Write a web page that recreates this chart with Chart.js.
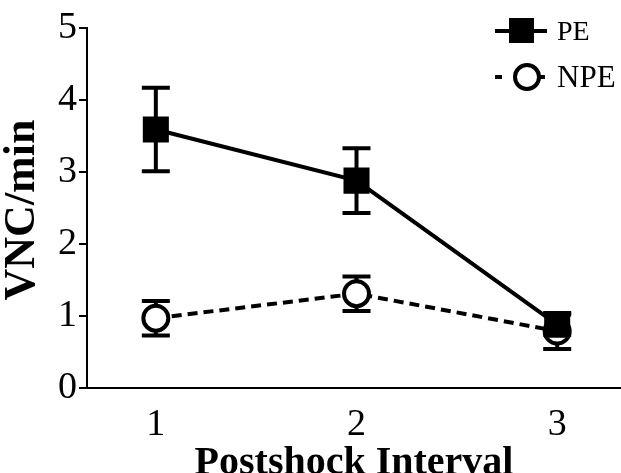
<!DOCTYPE html>
<html>
<head>
<meta charset="utf-8">
<script src="https://cdn.jsdelivr.net/npm/chart.js@4/dist/chart.umd.min.js"></script>
<style>
  html, body { margin: 0; padding: 0; background: #fff; }
  #chart { display: block; }
</style>
</head>
<body>
<canvas id="chart" width="621" height="473"></canvas>
<script>
// values
const intervals = [1, 2, 3];
const peMeans = [3.59, 2.88, 0.88];
const peErrors = [0.58, 0.45, 0.14];
const npeMeans = [0.97, 1.31, 0.79];
const npeErrors = [0.24, 0.24, 0.25];
const yTicks = [0, 1, 2, 3, 4, 5];

const SERIF = '"Liberation Serif", "DejaVu Serif", serif';

const seriesList = [
  { label: 'PE', means: peMeans, errors: peErrors },
  { label: 'NPE', means: npeMeans, errors: npeErrors }
];

const errorBars = {
  id: 'errorBars',
  beforeDatasetsDraw(chart) {
    const { ctx, scales } = chart;
    ctx.save();
    ctx.strokeStyle = '#000';
    ctx.lineWidth = 4;
    seriesList.forEach((series) => {
      series.means.forEach((mean, i) => {
        const x = scales.x.getPixelForValue(intervals[i]);
        const top = scales.y.getPixelForValue(mean + series.errors[i]);
        const bottom = scales.y.getPixelForValue(mean - series.errors[i]);
        ctx.beginPath();
        ctx.moveTo(x, top);
        ctx.lineTo(x, bottom);
        ctx.moveTo(x - 14, top);
        ctx.lineTo(x + 14, top);
        ctx.moveTo(x - 14, bottom);
        ctx.lineTo(x + 14, bottom);
        ctx.stroke();
      });
    });
    ctx.restore();
  }
};

// y title, drawn by hand so it can sit just below the axis middle
const yTitle = {
  id: 'yTitle',
  afterDraw(chart) {
    const { ctx, chartArea } = chart;
    ctx.save();
    ctx.translate(23, (chartArea.top + chartArea.bottom) / 2 + 2);
    ctx.rotate(-Math.PI / 2);
    ctx.fillStyle = '#000';
    ctx.font = 'bold 44px ' + SERIF;
    ctx.textAlign = 'center';
    ctx.textBaseline = 'middle';
    ctx.fillText('VNC/min', 0, 0);
    ctx.restore();
  }
};

const cornerLegend = {
  id: 'cornerLegend',
  afterDraw(chart) {
    const { ctx } = chart;
    ctx.save();
    ctx.strokeStyle = '#000';
    ctx.fillStyle = '#000';
    ctx.lineWidth = 4;

    // PE: solid line through a filled square
    ctx.beginPath();
    ctx.moveTo(495, 31);
    ctx.lineTo(547, 31);
    ctx.stroke();
    ctx.fillRect(509, 18, 25, 25);

    // NPE: short dashes either side of an open circle
    ctx.beginPath();
    ctx.moveTo(495, 77);
    ctx.lineTo(502, 77);
    ctx.moveTo(540, 77);
    ctx.lineTo(545, 77);
    ctx.stroke();
    ctx.beginPath();
    ctx.arc(527, 77, 12, 0, Math.PI * 2);
    ctx.fillStyle = '#fff';
    ctx.fill();
    ctx.stroke();

    ctx.fillStyle = '#000';
    ctx.textBaseline = 'middle';
    ctx.textAlign = 'left';
    ctx.font = '28px ' + SERIF;
    ctx.fillText('PE', 557, 33);
    ctx.font = '31px ' + SERIF;
    ctx.fillText('NPE', 557, 79);
    ctx.restore();
  }
};

new Chart(document.getElementById('chart'), {
  type: 'line',
  data: {
    datasets: [
      {
        label: 'PE',
        data: intervals.map((x, i) => ({ x, y: peMeans[i] })),
        borderColor: '#000',
        borderWidth: 4,
        pointStyle: 'rect',
        pointRadius: 17,
        pointBorderWidth: 2,
        pointBackgroundColor: '#000',
        pointBorderColor: '#000',
        tension: 0
      },
      {
        label: 'NPE',
        data: intervals.map((x, i) => ({ x, y: npeMeans[i] })),
        borderColor: '#000',
        borderWidth: 4,
        borderDash: [10, 6],
        pointStyle: 'circle',
        pointRadius: 12.5,
        pointBorderWidth: 4,
        pointBackgroundColor: '#fff',
        pointBorderColor: '#000',
        tension: 0
      }
    ]
  },
  options: {
    responsive: false,
    animation: false,
    events: [],
    layout: { autoPadding: false, padding: { top: 28, right: 0, bottom: 0, left: 0 } },
    plugins: {
      legend: { display: false },
      tooltip: { enabled: false }
    },
    scales: {
      x: {
        type: 'linear',
        position: 'bottom',
        min: 0.657,
        max: 3.318,
        afterBuildTicks: (scale) => {
          scale.ticks = intervals.map((value) => ({ value }));
        },
        afterFit: (scale) => {
          scale.height = 85;
        },
        grid: { display: false },
        border: { display: true, color: '#000', width: 2 },
        ticks: {
          color: '#000',
          font: { family: SERIF, size: 38 },
          padding: 6,
          autoSkip: false,
          maxRotation: 0
        },
        title: {
          display: true,
          text: 'Postshock Interval',
          color: '#000',
          font: { family: SERIF, size: 40, weight: 'bold', lineHeight: 0.45 },
          padding: 0
        }
      },
      y: {
        position: 'left',
        min: 0,
        max: 5,
        afterBuildTicks: (scale) => {
          scale.ticks = yTicks.map((value) => ({ value }));
        },
        afterFit: (scale) => {
          scale.width = 87;
        },
        grid: {
          drawOnChartArea: false,
          drawTicks: true,
          tickLength: 8,
          color: '#000',
          lineWidth: 2
        },
        border: { display: true, color: '#000', width: 2 },
        ticks: {
          color: '#000',
          font: { family: SERIF, size: 38 },
          padding: 2
        }
      }
    }
  },
  plugins: [errorBars, yTitle, cornerLegend]
});
</script>
</body>
</html>
